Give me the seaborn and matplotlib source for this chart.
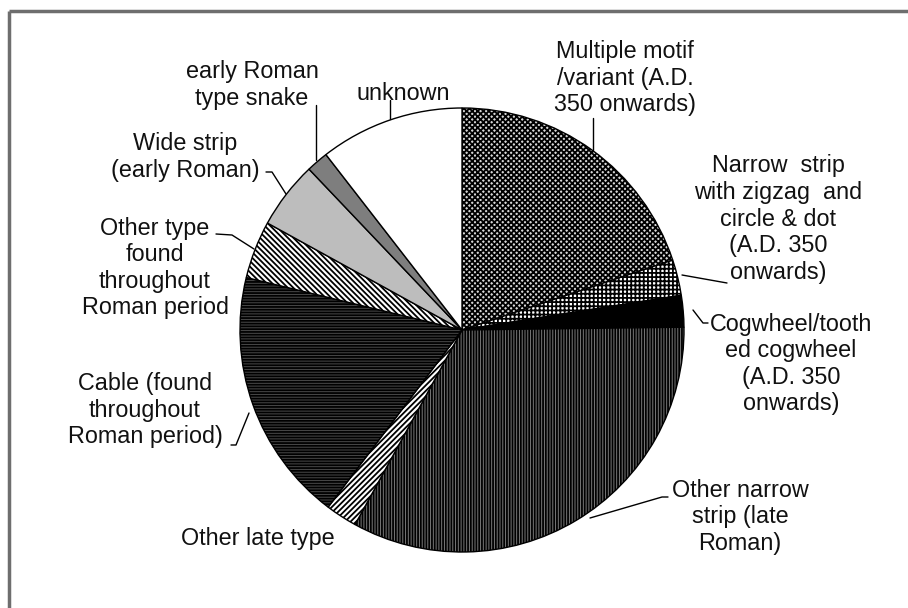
import matplotlib.pyplot as plt
import seaborn as sns

# slice order: clockwise from 12 o'clock, shares in percent
categories = ["Multiple motif", "Narrow strip zigzag", "Cogwheel", "Other narrow strip",
              "Other late type", "Cable", "Other type", "Wide strip", "early Roman snake", "unknown"]
shares = [19.9, 2.6, 2.3, 33.2, 2.3, 18.5, 4.2, 4.9, 1.6, 10.5]

labels = [
    "Multiple motif\n/variant (A.D.\n350 onwards)",
    "Narrow  strip\nwith zigzag  and\ncircle & dot\n(A.D. 350\nonwards)",
    "Cogwheel/tooth\ned cogwheel\n(A.D. 350\nonwards)",
    "Other narrow\nstrip (late\nRoman)",
    "Other late type",
    "Cable (found\nthroughout\nRoman period)",
    "Other type\nfound\nthroughout\nRoman period",
    "Wide strip\n(early Roman)",
    "early Roman\ntype snake",
    "unknown",
]

# label centres in pixels (x from left, y from top)
label_x = [625, 778, 791, 740, 258, 145, 155, 185, 252, 403]
label_y = [78, 219, 364, 517, 538, 410, 268, 157, 85, 94]

# leader lines for the labels, in pixels
leaders = [
    [(593, 118), (593, 150)],
    [(682, 275), (727, 283)],
    [(693, 310), (703, 323), (708, 323)],
    [(590, 518), (662, 497), (668, 497)],
    [],
    [(231, 445), (236, 445), (249, 413)],
    [(216, 234), (232, 235), (254, 249)],
    [(266, 172), (272, 172), (286, 194)],
    [(316, 105), (316, 160)],
    [(390, 100), (390, 119)],
]

faces = ["#d6d6d6", "white", "black", "#7a7a7a", "white", "#4a4a4a", "white", "#bdbdbd", "#7e7e7e", "white"]
hatches = ["xxxxxx", "++++", None, "||||||", "//////", "------", "\\\\\\\\\\\\", None, None, None]

sns.set_theme(style="white")
plt.rcParams['font.family'] = ['Liberation Sans', 'DejaVu Sans']
plt.rcParams['hatch.linewidth'] = 1.3

fig = plt.figure(figsize=(9.08, 6.08), dpi=100)
ax = fig.add_axes([0, 0, 1, 1])

# y axis is flipped below, so start at -90 and go "counterclockwise" to get clockwise from the top
wedges, _ = ax.pie(shares, startangle=-90, counterclock=True, center=(462, 330), radius=222,
                   wedgeprops=dict(edgecolor="black", linewidth=1.0))
for w, fc, h in zip(wedges, faces, hatches):
    w.set_facecolor(fc)
    if h:
        w.set_hatch(h)

ax.set_xlim(0, 908)
ax.set_ylim(608, 0)
ax.set_aspect("equal")
ax.axis("off")

for txt, x, y in zip(labels, label_x, label_y):
    ax.text(x, y, txt, ha="center", va="center", multialignment="center",
            fontsize=16.8, color="#111111", linespacing=1.2)

for pts in leaders:
    if pts:
        xs = [p[0] for p in pts]
        ys = [p[1] for p in pts]
        ax.plot(xs, ys, color="black", lw=1.0)

# grey frame on top and left like the cropped original
ax.plot([8.5, 8.5], [608, 10.5], color="#6e6e6e", lw=2.5, solid_capstyle="butt")
ax.plot([8.5, 908], [10.5, 10.5], color="#6e6e6e", lw=2.5, solid_capstyle="butt")

plt.savefig("out.png", dpi=100)
